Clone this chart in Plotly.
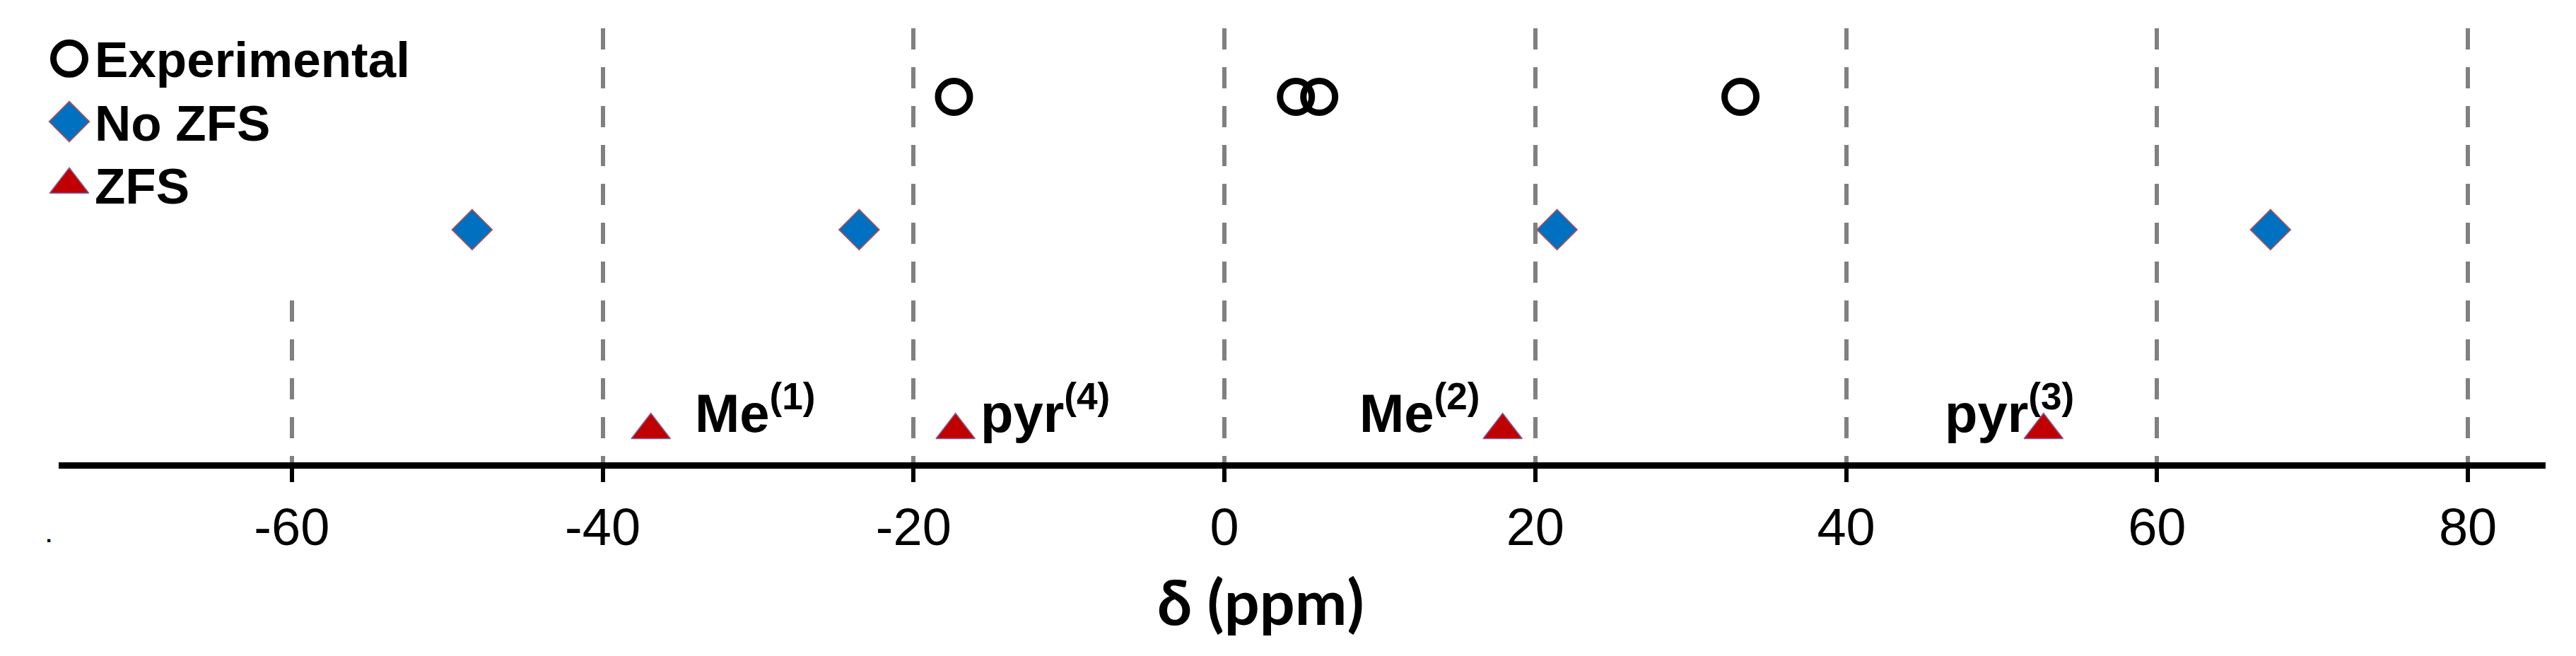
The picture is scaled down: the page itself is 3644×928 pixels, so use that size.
import plotly.graph_objects as go

# ---------------- data ----------------
series_names = ["Experimental", "No ZFS", "ZFS"]
experimental_ppm = [-17.4, 4.6, 6.1, 33.2]
no_zfs_ppm = [-48.4, -23.5, 21.4, 67.3]
zfs_ppm = [-36.9, -17.3, 17.9, 52.7]
zfs_labels = ["Me<sup>(1)</sup>", "pyr<sup>(4)</sup>", "Me<sup>(2)</sup>", "pyr<sup>(3)</sup>"]
tick_values = [-60, -40, -20, 0, 20, 40, 60, 80]
tick_labels = ["-60", "-40", "-20", "0", "20", "40", "60", "80"]
x_title = "δ (ppm)"

# ---------------- layout constants ----------------
OFF = 8                      # page body margin in the browser
W, H = 3644 - OFF, 928 - OFF
ML, MT, MB = 83 - OFF, 40 - OFF, 274
PLOT_W = 3518
MR = W - ML - PLOT_W
PLOT_H = H - MT - MB


def px_to_paper_x(px):
    return (px - OFF - ML) / PLOT_W


def px_to_paper_y(py):
    return (MT + PLOT_H - (py - OFF)) / PLOT_H


row_level = {"Experimental": 8.42, "No ZFS": 5.36, "ZFS": 0.74}

styles = {
    "Experimental": dict(symbol="circle-open", size=45, color="black", lcolor="black", lwidth=9),
    "No ZFS": dict(symbol="diamond", size=44, color="#0070C0", lcolor="#C0504D", lwidth=1.5),
    "ZFS": dict(symbol="triangle-up", size=48, color="#C00000", lcolor="#8064A2", lwidth=1.5),
}

fig = go.Figure()

for name, xs in zip(series_names, [experimental_ppm, no_zfs_ppm, zfs_ppm]):
    s = styles[name]
    fig.add_trace(go.Scatter(
        x=xs, y=[row_level[name]] * len(xs), mode="markers", name=name,
        marker=dict(symbol=s["symbol"], size=s["size"], color=s["color"], opacity=1,
                    line=dict(color=s["lcolor"], width=s["lwidth"])),
        cliponaxis=False, showlegend=False, hoverinfo="x+name",
    ))

# legend drawn as a small categorical subplot so the keys keep full marker size
fig.add_trace(go.Scatter(
    x=[0] * len(series_names), y=series_names, xaxis="x2", yaxis="y2",
    mode="markers",
    marker=dict(symbol=[styles[n]["symbol"] for n in series_names],
                size=[styles[n]["size"] for n in series_names],
                color=[styles[n]["color"] for n in series_names],
                opacity=1,
                line=dict(color=[styles[n]["lcolor"] for n in series_names],
                          width=[styles[n]["lwidth"] for n in series_names])),
    cliponaxis=False, showlegend=False, hoverinfo="skip",
))

annotations = []
for n in series_names:
    annotations.append(dict(
        x=0, y=n, xref="x2", yref="y2", text=n, showarrow=False,
        xanchor="left", yanchor="middle", xshift=34, yshift=-2,
        font=dict(family="Arial, Liberation Sans", size=71, color="black", weight="bold"),
    ))

label_anchor = ["left", "left", "right", "right"]
label_xshift = [60, 33, -30, 45]
for x, lab, anc, dx in zip(zfs_ppm, zfs_labels, label_anchor, label_xshift):
    annotations.append(dict(
        x=x, y=row_level["ZFS"], xref="x", yref="y", text="<b>" + lab + "</b>",
        showarrow=False, xanchor=anc, yanchor="middle", xshift=dx, yshift=30,
        font=dict(family="Arial, Liberation Sans", size=76, color="black"),
    ))

annotations.append(dict(
    x=px_to_paper_x(1783), y=px_to_paper_y(850), xref="paper", yref="paper",
    text="<b>" + x_title + "</b>", showarrow=False, xanchor="center", yanchor="middle",
    font=dict(family="Lato, Open Sans", size=88, color="black"),
))
annotations.append(dict(
    x=px_to_paper_x(69), y=px_to_paper_y(756), xref="paper", yref="paper",
    text="<b>.</b>", showarrow=False, xanchor="center", yanchor="middle",
    font=dict(family="Arial, Liberation Sans", size=30, color="black"),
))

fig.update_layout(
    width=W, height=H,
    margin=dict(l=ML, r=MR, t=MT, b=MB, pad=0),
    paper_bgcolor="white", plot_bgcolor="white",
    annotations=annotations,
    xaxis=dict(
        range=[-75, 85], tickmode="array", tickvals=tick_values, ticktext=tick_labels,
        showgrid=True, gridcolor="#808080", gridwidth=6, griddash="30px,25px",
        showline=True, linecolor="black", linewidth=9,
        ticks="outside", ticklen=19, tickwidth=6, tickcolor="black",
        tickfont=dict(family="Arial, Liberation Sans", size=74, color="black"),
        zeroline=False, fixedrange=True, automargin=False,
    ),
    yaxis=dict(range=[0, 10], visible=False, fixedrange=True),
    xaxis2=dict(domain=[px_to_paper_x(83), px_to_paper_x(113)], anchor="y2",
                range=[-1, 1], visible=False),
    yaxis2=dict(domain=[px_to_paper_y(279), px_to_paper_y(65)], anchor="x2", type="category",
                categoryorder="array", categoryarray=series_names,
                range=[2.2, -0.2], visible=False),
    shapes=[dict(type="rect", xref="x", yref="y", x0=-75, x1=-55, y0=3.8, y1=10.5,
                 fillcolor="white", line=dict(width=0), layer="between")],
)

fig.write_html("out.html")
